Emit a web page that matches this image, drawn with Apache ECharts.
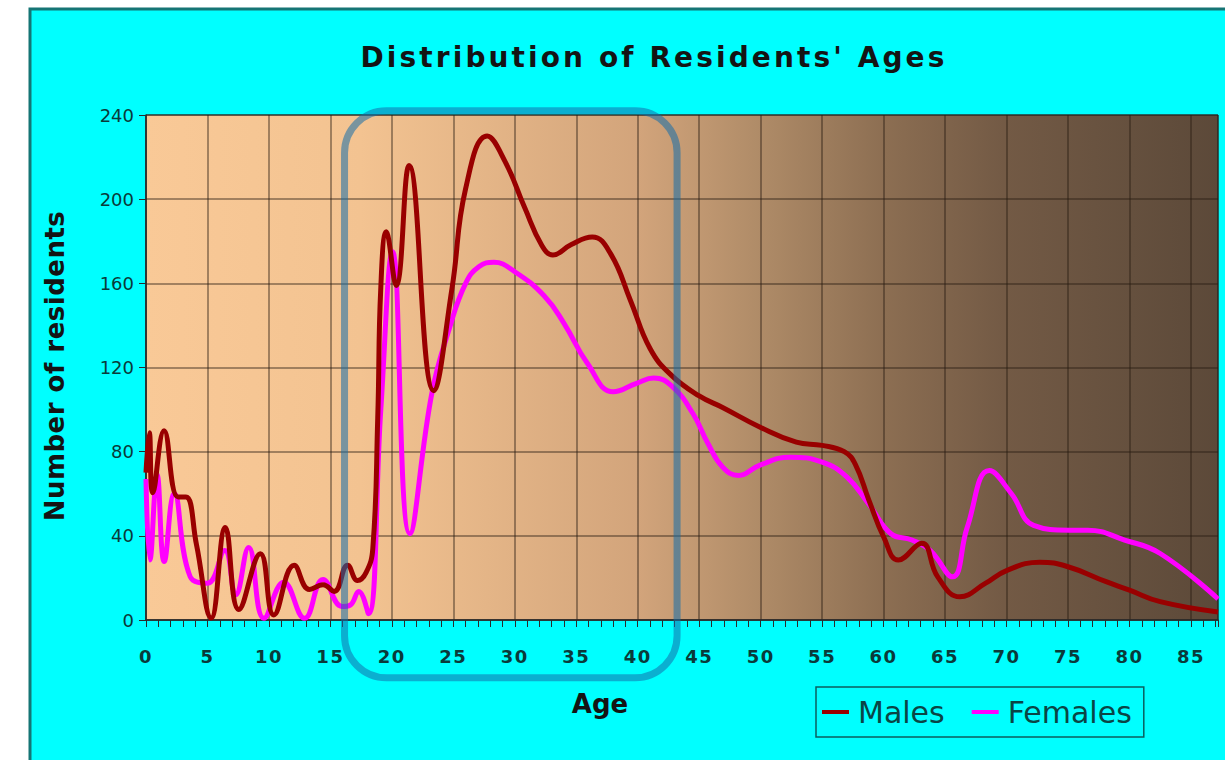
<!DOCTYPE html>
<html>
<head>
<meta charset="utf-8">
<script src="https://cdn.jsdelivr.net/npm/echarts@6/dist/echarts.min.js"></script>
<style>
  html, body { margin: 0; padding: 0; background: #ffffff; }
  #chart { width: 1225px; height: 760px; }
</style>
</head>
<body>
<div id="chart"></div>
<script>
// ---------------- data ----------------
const TITLE = "Distribution of Residents' Ages";
const X_NAME = 'Age';
const Y_NAME = 'Number of residents';
const SERIES_NAMES = ['Males', 'Females'];

const X_MIN = 0, X_MAX = 87.2, X_INTERVAL = 5;
const Y_MIN = 0, Y_MAX = 240, Y_INTERVAL = 40;

const MALE_AGES = [0, 0.27, 0.55, 1.47, 2.6, 3.25, 4.1, 5.3, 6.45, 7.55, 9.3, 10.4, 12.05, 13.3, 14.4, 15.3, 16.4, 17.2, 17.9, 18.45, 18.85, 19.1, 19.55, 20.35, 21.4, 23.4, 24.9, 26.0, 27.75, 29.2, 30.8, 32.2, 33.1, 34.6, 36.3, 37.8, 39.4, 41.0, 42.7, 45.0, 46.9, 50.0, 52.9, 55.0, 56.8, 57.7, 58.8, 60.0, 61.2, 63.1, 64.4, 66.2, 68.3, 70.0, 72.7, 75.0, 78.1, 80.0, 82.5, 87.2];
const MALE_VALUES = [70, 89, 60.5, 90, 58.5, 58.5, 36, 1, 44, 5, 31.5, 2.4, 26, 14.5, 16.8, 13.6, 26, 18.8, 22.5, 34, 96, 158, 184.5, 159, 216, 109, 158, 205, 230, 218, 196, 178, 173.5, 178.5, 182, 174, 152, 129, 116.5, 106.5, 101, 91.5, 84.5, 83, 80, 74, 57, 39.5, 28.5, 36.5, 20.5, 11, 17.5, 23.5, 27.5, 25.3, 18.2, 14.2, 8.7, 3.8];

const FEMALE_AGES = [0, 0.32, 0.9, 1.48, 2.3, 3.6, 5.0, 6.4, 7.3, 8.35, 9.6, 11.2, 12.9, 14.4, 15.95, 16.6, 17.3, 18.1, 19.1, 20.05, 21.46, 23.26, 24.7, 26.0, 27.1, 28.3, 30.0, 32.4, 34.0, 35.9, 38.0, 39.9, 41.3, 42.8, 44.5, 45.7, 46.9, 48.2, 49.9, 52.4, 55.0, 57.0, 58.8, 60.6, 62.3, 63.8, 65.6, 66.8, 68.6, 70.4, 72.2, 75.1, 76.6, 79.6, 82.5, 87.2];
const FEMALE_VALUES = [67, 28.5, 69, 27.8, 60, 20.5, 17.5, 33, 12, 34.5, 0.8, 18, 0.8, 19.3, 6.4, 7, 13.6, 3, 100, 175, 41, 108, 139, 160, 168, 170, 165.5, 154, 141, 122, 108.5, 112.5, 115, 111, 98, 84, 72.7, 68.7, 73.5, 77.4, 75, 68, 55, 41, 38, 33, 20.5, 44, 71, 60, 45, 42.7, 42.7, 38, 31.6, 10];

// highlighted age band (data units)
const HIGHLIGHT_AGES = [16.15, 43.2];
const HIGHLIGHT_VALUES = [-27.5, 242];

// ---------------- chart ----------------
const dom = document.getElementById('chart');
const chart = echarts.init(dom, null, { renderer: 'svg', width: 1225, height: 760 });

const FONT = '"DejaVu Sans", Verdana, sans-serif';
const pairs = (xs, ys) => xs.map((x, i) => [x, ys[i]]);

const plotGradient = {
  type: 'linear', x: 0, y: 0, x2: 1, y2: 0,
  colorStops: [
    { offset: 0.00, color: '#f9c997' },
    { offset: 0.20, color: '#f3c391' },
    { offset: 0.46, color: '#d2a47b' },
    { offset: 0.57, color: '#b08c68' },
    { offset: 0.69, color: '#8c6e52' },
    { offset: 0.80, color: '#735a45' },
    { offset: 0.92, color: '#65503e' },
    { offset: 1.00, color: '#5c4939' }
  ]
};

const gridLine = { color: 'rgba(40,28,18,0.55)', width: 1.5 };
const axisDark = '#2b2b2b';

const option = {
  animation: false,
  backgroundColor: '#ffffff',
  textStyle: { fontFamily: FONT },
  grid: {
    left: 146, right: 7, top: 115, bottom: 140,
    show: true, backgroundColor: plotGradient,
    borderColor: '#333333', borderWidth: 1
  },
  xAxis: [
    {
      type: 'value', min: X_MIN, max: X_MAX, interval: X_INTERVAL, position: 'bottom',
      axisLine: { show: true, onZero: false, lineStyle: { color: axisDark, width: 1.5 } },
      axisTick: { show: false },
      splitLine: { show: true, lineStyle: gridLine },
      axisLabel: { showMaxLabel: false, margin: 27, fontSize: 18, fontWeight: 'bold', color: '#0a3a3a', fontFamily: FONT }
    },
    {
      type: 'value', min: X_MIN, max: X_MAX, interval: 1, position: 'bottom', offset: 0,
      axisLine: { show: false, onZero: false },
      axisTick: { show: true, length: 7, lineStyle: { color: axisDark, width: 1 } },
      splitLine: { show: false },
      axisLabel: { show: false }
    }
  ],
  yAxis: {
    type: 'value', min: Y_MIN, max: Y_MAX, interval: Y_INTERVAL,
    axisLine: { show: true, lineStyle: { color: axisDark, width: 1.5 } },
    axisTick: { show: true, length: 7, lineStyle: { color: axisDark, width: 1 } },
    splitLine: { show: true, lineStyle: gridLine },
    axisLabel: { margin: 12, fontSize: 18, color: '#0a3a3a', fontFamily: FONT }
  },
  legend: {
    data: SERIES_NAMES,
    left: 816, top: 687,
    padding: [7, 12, 7, 6],
    itemGap: 27, itemWidth: 27, itemHeight: 4, icon: 'rect',
    borderColor: '#0b5f5f', borderWidth: 1.5,
    textStyle: { fontSize: 30, fontFamily: FONT, color: '#0a4545', padding: [0, 0, 0, 4], lineHeight: 36 }
  },
  series: [
    {
      name: SERIES_NAMES[1], type: 'line', xAxisIndex: 0,
      data: pairs(FEMALE_AGES, FEMALE_VALUES),
      smooth: 0.45, showSymbol: false, symbol: 'none',
      lineStyle: { color: '#ff00ff', width: 5 }, itemStyle: { color: '#ff00ff' }
    },
    {
      name: SERIES_NAMES[0], type: 'line', xAxisIndex: 0,
      data: pairs(MALE_AGES, MALE_VALUES),
      smooth: 0.45, showSymbol: false, symbol: 'none',
      lineStyle: { color: '#990000', width: 5 }, itemStyle: { color: '#990000' }
    }
  ],
  graphic: [
    {
      id: 'frame', type: 'rect', z: -100, silent: true,
      shape: { x: 30, y: 9, width: 1215, height: 770 },
      style: { fill: '#00ffff', stroke: '#157575', lineWidth: 3 }
    },
    {
      id: 'title', type: 'text', x: 654, y: 57, z: 10,
      style: { text: TITLE, font: 'bold 28px ' + FONT, fill: '#141414',
               align: 'center', verticalAlign: 'middle', textAlign: 'center', textVerticalAlign: 'middle' }
    },
    {
      id: 'xname', type: 'text', x: 600, y: 704, z: 10,
      style: { text: X_NAME, font: 'bold 26px ' + FONT, fill: '#141414',
               align: 'center', verticalAlign: 'middle', textAlign: 'center', textVerticalAlign: 'middle' }
    },
    {
      id: 'yname', type: 'text', x: 55, y: 366, rotation: Math.PI / 2, z: 10,
      style: { text: Y_NAME, font: 'bold 26px ' + FONT, fill: '#141414',
               align: 'center', verticalAlign: 'middle', textAlign: 'center', textVerticalAlign: 'middle' }
    }
  ]
};

chart.setOption(option);

// highlight band positioned through the chart's own scales
const pTL = chart.convertToPixel({ gridIndex: 0 }, [HIGHLIGHT_AGES[0], HIGHLIGHT_VALUES[1]]);
const pBR = chart.convertToPixel({ gridIndex: 0 }, [HIGHLIGHT_AGES[1], HIGHLIGHT_VALUES[0]]);
chart.setOption({
  graphic: [{
    id: 'highlight', type: 'rect', z: 100, silent: true,
    shape: { x: pTL[0], y: pTL[1], width: pBR[0] - pTL[0], height: pBR[1] - pTL[1], r: 42 },
    style: { fill: 'none', stroke: 'rgba(20,110,170,0.55)', lineWidth: 7 }
  }]
});

// letter spacing like the original raster
function applySpacing() {
  const svg = dom.querySelector('svg');
  if (!svg) return;
  svg.querySelectorAll('text').forEach(t => {
    const s = t.textContent;
    if (s === TITLE) {
      t.removeAttribute('letter-spacing');
      const len = t.getComputedTextLength();
      const sp = (584 - len) / (s.length - 1);
      if (sp > 0) t.setAttribute('letter-spacing', sp.toFixed(2));
    } else if (s === Y_NAME) {
      t.setAttribute('letter-spacing', '0.5');
    } else if (/^\d+$/.test(s)) {
      const r = t.getBoundingClientRect();
      if (r.top > 615) t.setAttribute('letter-spacing', '1.5');
    }
  });
}
chart.on('finished', applySpacing);
setTimeout(applySpacing, 50);
setTimeout(applySpacing, 300);
</script>
</body>
</html>
